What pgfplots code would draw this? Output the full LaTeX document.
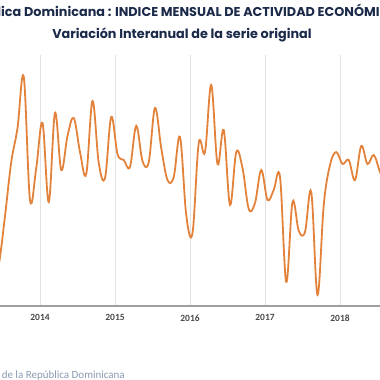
\documentclass[border=0pt]{standalone}
\usepackage{fontspec}
\setmainfont{Carlito}
\newfontfamily\titlefont{Poppins}
\usepackage{pgfplots}
\pgfplotsset{compat=1.18}
\definecolor{lineor}{HTML}{E3823A}
\definecolor{titlec}{HTML}{1C2A4A}
\definecolor{gridc}{HTML}{E2E2E2}
\definecolor{tickc}{HTML}{4A4A4A}
\definecolor{footc}{HTML}{8A9BB0}
\begin{document}
\begin{tikzpicture}[x=1pt,y=1pt]
\useasboundingbox (0,0) rectangle (380,380);
\clip (0,0) rectangle (380,380);
\begin{axis}[
  at={(0pt,74pt)}, anchor=south west,
  width=380pt, height=251pt, scale only axis,
  xmin=-6.8, xmax=54, ymin=0, ymax=12,
  axis x line*=bottom, axis y line=none,
  x axis line style={draw=gray!75, line width=1.1pt, -},
  xtick={-0.4,11.6,23.6,35.6,47.6},
  xticklabels={2014,2015,2016,2017,2018},
  ytick={0,2,4,6,8,10,12},
  yticklabels={},
  grid=major,
  major grid style={draw=gridc, line width=0.9pt},
  major tick length=0pt,
  xticklabel style={font=\fontsize{9.5}{10}\selectfont\bfseries, text=tickc, inner sep=0pt, yshift=-8.5pt},
  clip=false,
]
\addplot[lineor, line width=1.8pt, smooth, tension=0.6] coordinates {
(-8,1.00) (-7,1.96) (-6,4.30) (-5,6.88) (-4,8.51) (-3,10.95) (-2,5.07) (-1,6.60)
(0,8.75) (1,4.97) (2,9.23) (3,6.50) (4,8.13) (5,8.99) (6,7.36) (7,6.31)
(8,9.80) (9,6.84) (10,6.12) (11,9.04) (12,7.27) (13,6.98) (14,6.65) (15,8.61)
(16,6.93) (17,6.88) (18,9.47) (19,7.55) (20,6.02) (21,6.17) (22,8.08) (23,4.35)
(24,3.49) (25,7.79) (26,7.36) (27,10.57) (28,6.79) (29,8.41) (30,4.83) (31,7.36)
(32,6.60) (33,4.64) (34,4.92) (35,6.50) (36,5.07) (37,5.55) (38,6.17) (39,1.15)
(40,4.97) (41,3.59) (42,3.54) (43,5.45) (44,0.53) (45,4.83) (46,6.74) (47,7.36)
(48,6.79) (49,6.98) (50,6.02) (51,7.65) (52,6.79) (53,7.22) (54,6.41) (55,5.78)
};
\end{axis}
\node[anchor=base west, inner sep=0pt, text=titlec, font=\titlefont\fontsize{12.8}{14}\selectfont\bfseries] at (1,363) {\llap{Repúbl}ica Dominicana : INDICE MENSUAL DE ACTIVIDAD ECONÓMICA};
\node[inner sep=0pt, text=titlec, font=\titlefont\fontsize{12.8}{14}\selectfont\bfseries] at (182,345.5) {Variación Interanual de la serie original};
\node[anchor=base east, inner sep=0pt, text=footc, font=\fontsize{11}{12}\selectfont] at (125,1.5) {Fuente: Banco Central de la República Dominicana};
\end{tikzpicture}
\end{document}
